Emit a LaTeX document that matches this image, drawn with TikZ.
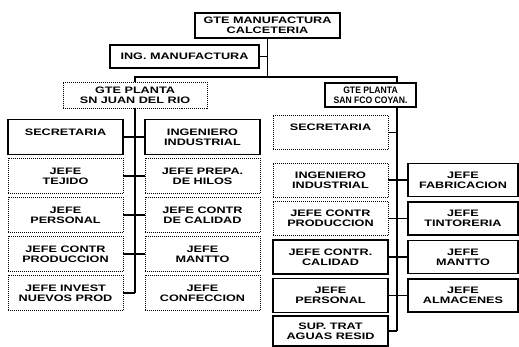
\documentclass[tikz,border=0pt]{standalone}
\usepackage{fontspec}
\setmainfont{Liberation Sans}
\newfontfamily\orgfamily[FakeStretch=1.35]{Liberation Sans}
\newfontfamily\orgnarrow[FakeStretch=0.92]{Liberation Sans}
\usepackage{tikz}
\usetikzlibrary{positioning, calc}
\tikzset{
  org/.style={rectangle, align=center, inner sep=1pt,
              font=\orgfamily\bfseries\fontsize{8}{8.6}\selectfont},
  solidbox/.style={org, draw, line width=1.3pt},
  dotbox/.style={org, draw, line width=0.8pt, dash pattern=on 0.8pt off 0.9pt},
  sjrcol/.style={minimum width=3.45cm, minimum height=1.05cm},
  sfcleft/.style={minimum width=3.45cm, minimum height=1.02cm},
  sfcright/.style={minimum width=3.3cm, minimum height=0.98cm},
  link/.style={line width=1.5pt},
}

\begin{document}
\begin{tikzpicture}[x=0.03cm, y=-0.03cm]
  \useasboundingbox (0,0) rectangle (519,347);

  % top
  \node[solidbox, minimum width=4.35cm, minimum height=0.75cm] (gtemanuf) at (267.5,25.5) {GTE MANUFACTURA\\CALCETERIA};
  \node[solidbox, minimum width=4.47cm, minimum height=0.69cm] (ingmanuf) at (184.5,56.5) {ING. MANUFACTURA};
  \coordinate (bus) at (267.5,77);
  \coordinate (sfcx) at (397,77);

  \node[dotbox, minimum width=4.32cm, minimum height=0.78cm] (gtesjr) at (135,95) {GTE PLANTA\\SN JUAN DEL RIO};
  \node[solidbox, minimum width=2.73cm, minimum height=0.72cm,
        font=\orgnarrow\bfseries\fontsize{8}{8.6}\selectfont] (gtesfc) at (370.5,95) {GTE PLANTA\\SAN FCO COYAN.};

  % planta San Juan del Rio
  \node[solidbox, sjrcol] (secsjr) at (65.5,137) {SECRETARIA\\~};
  \node[solidbox, sjrcol] (ingsjr) at (202.5,137) {INGENIERO\\INDUSTRIAL};
  \node[dotbox, sjrcol] (tejido) at (65.5,176) {JEFE\\TEJIDO};
  \node[dotbox, sjrcol] (prepa) at (202.5,176) {JEFE PREPA.\\DE HILOS};
  \node[dotbox, sjrcol] (persjr) at (65.5,215) {JEFE\\PERSONAL};
  \node[dotbox, sjrcol] (calsjr) at (202.5,215) {JEFE CONTR\\DE CALIDAD};
  \node[dotbox, sjrcol] (prodsjr) at (65.5,254) {JEFE CONTR\\PRODUCCION};
  \node[dotbox, sjrcol] (manttosjr) at (202.5,254) {JEFE\\MANTTO};
  \node[dotbox, sjrcol] (invest) at (65.5,293) {JEFE INVEST\\NUEVOS PROD};
  \node[dotbox, sjrcol] (confec) at (202.5,293) {JEFE\\CONFECCION};

  % planta San Fco Coyan
  \node[dotbox, sfcleft] (secsfc) at (330.5,132.5) {SECRETARIA\\~};
  \node[dotbox, sfcleft] (ingsfc) at (330.5,180) {INGENIERO\\INDUSTRIAL};
  \node[dotbox, sfcleft] (prodsfc) at (330.5,218.5) {JEFE CONTR\\PRODUCCION};
  \node[solidbox, sfcleft] (calsfc) at (330.5,257) {JEFE CONTR.\\CALIDAD};
  \node[solidbox, sfcleft] (persfc) at (330.5,295.5) {JEFE\\PERSONAL};
  \node[solidbox, sfcleft, minimum height=0.9cm] (suptrat) at (330.5,331) {SUP. TRAT\\AGUAS RESID};
  \node[solidbox, sfcright] (fabric) at (463,180) {JEFE\\FABRICACION};
  \node[solidbox, sfcright] (tintor) at (463,218.5) {JEFE\\TINTORERIA};
  \node[solidbox, sfcright] (manttosfc) at (463,257) {JEFE\\MANTTO};
  \node[solidbox, sfcright] (almac) at (463,295.5) {JEFE\\ALMACENES};

  % lines
  \draw[link] (gtemanuf.south) -- (bus);
  \draw[link] (ingmanuf.east) -- (ingmanuf.east -| bus);
  \draw[link] (gtesjr.north) |- (bus) -- (sfcx) -- (sfcx |- gtesfc.north);

  \draw[link] (gtesjr.south) -- (gtesjr.south |- invest.east);
  \draw[link] (secsjr.east) -- (ingsjr.west);
  \draw[link] (tejido.east) -- (prepa.west);
  \draw[link] (persjr.east) -- (calsjr.west);
  \draw[link] (prodsjr.east) -- (manttosjr.west);
  \draw[link] (invest.east) -- (gtesjr.south |- invest.east);

  \draw[link] (sfcx |- gtesfc.south) -- (sfcx |- suptrat.east);
  \draw[link] (secsfc.east) -- (secsfc.east -| sfcx);
  \draw[link] (ingsfc.east) -- (fabric.west);
  \draw[link] (prodsfc.east) -- (tintor.west);
  \draw[link] (calsfc.east) -- (manttosfc.west);
  \draw[link] (persfc.east) -- (almac.west);
  \draw[link] (suptrat.east) -- (suptrat.east -| sfcx);
\end{tikzpicture}
\end{document}
